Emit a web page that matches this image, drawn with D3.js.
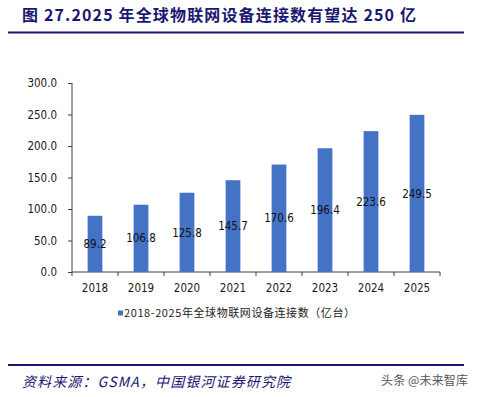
<!doctype html>
<html>
<head>
<meta charset="utf-8">
<style>
    body { margin: 0; background: #fff; }
    .axis text { font-family: "DejaVu Sans Condensed", "Liberation Sans", sans-serif; font-size: 11.5px; fill: #1a1a1a; }
    .axis path, .axis line { stroke: #404040; }
</style>
<script src="https://d3js.org/d3.v7.min.js"></script>
</head>
<body>
<svg id="chart" width="479" height="397"></svg>
<script>
    // data
    var years = ["2018", "2019", "2020", "2021", "2022", "2023", "2024", "2025"];
    var devices = [89.2, 106.8, 125.8, 145.7, 170.6, 196.4, 223.6, 249.5];
    var yTicks = [0, 50, 100, 150, 200, 250, 300];

    var titleText = "图 27.2025 年全球物联网设备连接数有望达 250 亿";
    var legendText = "2018-2025年全球物联网设备连接数（亿台）";
    var sourceText = "资料来源：GSMA，中国银河证券研究院";
    var markText = "头条 @未来智库";

    var navy = "#1b1770",
        barColor = "#4472c4";

    var svg = d3.select("#chart");

    var x = d3.scaleBand().domain(years).range([72, 440]).padding(0),
        y = d3.scaleLinear().domain([0, 300]).range([272, 83]);

    // title + rules
    svg.append("text")
       .attr("x", 22)
       .attr("y", 21)
       .attr("font-family", "'Noto Sans CJK SC', sans-serif")
       .attr("font-weight", "bold")
       .attr("font-size", "16px")
       .attr("fill", navy)
       .attr("textLength", 394)
       .attr("lengthAdjust", "spacing")
       .text(titleText);

    svg.append("rect").attr("x", 8).attr("y", 31.5).attr("width", 456).attr("height", 2).attr("fill", navy);
    svg.append("rect").attr("x", 8).attr("y", 364).attr("width", 456).attr("height", 2).attr("fill", navy);

    // y axis
    svg.append("g")
       .attr("class", "axis")
       .attr("transform", "translate(72,0)")
       .call(d3.axisLeft(y).tickValues(yTicks).tickSize(4).tickPadding(11)
               .tickFormat(function(d) { return d3.format(".1f")(d); }))
       .call(function(g) { g.select(".domain").attr("d", "M0," + y(300) + "V" + y(0)); });

    // x axis: labels centered, ticks on category boundaries
    var xg = svg.append("g")
       .attr("class", "axis")
       .attr("transform", "translate(0,272)")
       .call(d3.axisBottom(x).tickSize(0).tickPadding(12))
       .call(function(g) { g.select(".domain").attr("d", "M72,0H440"); });

    xg.selectAll(".bound")
      .data([years[0]].concat(years))
      .enter().append("line")
      .attr("class", "bound")
      .attr("x1", function(d, i) { return i === 0 ? x(d) : x(d) + x.bandwidth(); })
      .attr("x2", function(d, i) { return i === 0 ? x(d) : x(d) + x.bandwidth(); })
      .attr("y1", 0)
      .attr("y2", 4);

    var barW = x.bandwidth() * 0.32;

    svg.selectAll(".bar")
       .data(devices)
       .enter().append("rect")
       .attr("class", "bar")
       .attr("x", function(d, i) { return x(years[i]) + (x.bandwidth() - barW) / 2; })
       .attr("y", function(d) { return y(d); })
       .attr("width", barW)
       .attr("height", function(d) { return y(0) - y(d); })
       .attr("fill", barColor);

    svg.selectAll(".val")
       .data(devices)
       .enter().append("text")
       .attr("class", "val")
       .attr("x", function(d, i) { return x(years[i]) + x.bandwidth() / 2; })
       .attr("y", function(d) { return (y(d) + y(0)) / 2; })
       .attr("dy", "0.36em")
       .attr("text-anchor", "middle")
       .attr("font-family", "'DejaVu Sans Condensed', 'Liberation Sans', sans-serif")
       .attr("font-size", "11.5px")
       .attr("fill", "#111")
       .text(function(d) { return d.toFixed(1); });

    // legend
    svg.append("rect").attr("x", 118).attr("y", 310.5).attr("width", 5).attr("height", 5).attr("fill", barColor);
    svg.append("text")
       .attr("x", 124)
       .attr("y", 317)
       .attr("font-family", "'Noto Sans CJK SC', sans-serif")
       .attr("font-size", "11px")
       .attr("fill", "#222")
       .attr("textLength", 231)
       .attr("lengthAdjust", "spacing")
       .text(legendText);

    // source + watermark
    svg.append("text")
       .attr("x", 22)
       .attr("y", 387)
       .attr("font-family", "'Noto Sans CJK SC', sans-serif")
       .attr("font-size", "14px")
       .attr("font-style", "italic")
       .attr("fill", navy)
       .attr("textLength", 268)
       .attr("lengthAdjust", "spacing")
       .text(sourceText);

    svg.append("text")
       .attr("x", 381)
       .attr("y", 385)
       .attr("font-family", "'Noto Sans CJK SC', sans-serif")
       .attr("font-size", "12px")
       .attr("fill", "#555")
       .attr("textLength", 87)
       .attr("lengthAdjust", "spacing")
       .text(markText);
</script>
</body>
</html>
